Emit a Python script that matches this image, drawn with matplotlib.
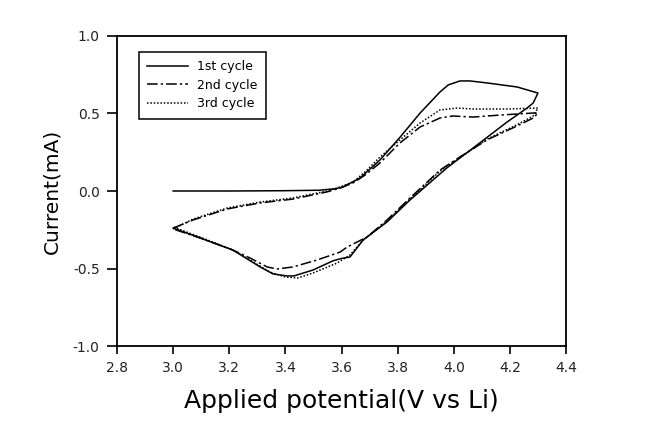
#   Cyclic voltammetry: first three cycles

#Python imports
#----------------
import matplotlib
matplotlib.use("Agg")
import matplotlib.pyplot as plt
#----------------

#********************************
#   DATA
#********************************

# 1st cycle, anodic sweep (3.0 -> 4.3 V)
v1_up = [3.00, 3.20, 3.40, 3.52, 3.58, 3.605, 3.666, 3.737, 3.809, 3.880, 3.951, 3.980, 4.022, 4.058, 4.119, 4.226, 4.300]
i1_up = [0.000, 0.000, 0.002, 0.005, 0.015, 0.026, 0.084, 0.200, 0.348, 0.503, 0.639, 0.684, 0.710, 0.710, 0.697, 0.671, 0.632]
# 1st cycle, cathodic sweep (4.3 -> 3.0 V)
v1_dn = [4.300, 4.283, 4.261, 4.190, 4.083, 3.976, 3.844, 3.762, 3.677, 3.630, 3.600, 3.570, 3.498, 3.430, 3.406, 3.356, 3.310, 3.213, 3.096, 3.000]
i1_dn = [0.632, 0.568, 0.535, 0.445, 0.297, 0.150, -0.058, -0.200, -0.316, -0.426, -0.435, -0.450, -0.510, -0.548, -0.548, -0.535, -0.490, -0.381, -0.303, -0.239]

# 2nd cycle
v2_up = [3.000, 3.071, 3.192, 3.310, 3.427, 3.548, 3.595, 3.641, 3.684, 3.737, 3.808, 3.880, 3.951, 3.997, 4.069, 4.165, 4.283, 4.300]
i2_up = [-0.239, -0.187, -0.116, -0.077, -0.052, -0.006, 0.019, 0.052, 0.103, 0.181, 0.310, 0.413, 0.471, 0.484, 0.477, 0.490, 0.503, 0.503]
v2_dn = [4.300, 4.283, 4.226, 4.119, 4.022, 3.951, 3.844, 3.762, 3.691, 3.620, 3.595, 3.513, 3.427, 3.370, 3.335, 3.274, 3.213, 3.096, 3.000]
i2_dn = [0.503, 0.471, 0.420, 0.330, 0.220, 0.135, -0.045, -0.187, -0.297, -0.361, -0.394, -0.445, -0.490, -0.503, -0.490, -0.432, -0.381, -0.303, -0.245]

# 3rd cycle
v3_up = [3.000, 3.071, 3.192, 3.310, 3.427, 3.548, 3.595, 3.641, 3.684, 3.737, 3.808, 3.880, 3.951, 4.012, 4.069, 4.190, 4.300]
i3_up = [-0.245, -0.181, -0.110, -0.071, -0.045, 0.000, 0.026, 0.058, 0.123, 0.219, 0.329, 0.439, 0.523, 0.535, 0.529, 0.529, 0.535]
v3_dn = [4.300, 4.283, 4.226, 4.119, 4.022, 3.951, 3.844, 3.762, 3.677, 3.630, 3.584, 3.498, 3.445, 3.400, 3.345, 3.274, 3.213, 3.096, 3.000]
i3_dn = [0.535, 0.484, 0.428, 0.335, 0.215, 0.129, -0.052, -0.194, -0.316, -0.413, -0.465, -0.529, -0.561, -0.555, -0.523, -0.445, -0.381, -0.297, -0.232]

labels = ["1st cycle", "2nd cycle", "3rd cycle"]
xticks = [2.8, 3.0, 3.2, 3.4, 3.6, 3.8, 4.0, 4.2, 4.4]
yticks = [-1.0, -0.5, 0.0, 0.5, 1.0]

#-------------------------------
# MAIN
#-------------------------------

fig = plt.figure(figsize=(6.48, 4.4), dpi=100)
ax = fig.add_axes([0.1806, 0.2136, 0.6929, 0.7046])

styles = ["-", (0, (7, 2, 1.5, 2)), (0, (1, 1.2))]
curves = [(v1_up + v1_dn[1:], i1_up + i1_dn[1:]),
          (v2_up + v2_dn[1:], i2_up + i2_dn[1:]),
          (v3_up + v3_dn[1:], i3_up + i3_dn[1:])]

for (v, i), ls, lab in zip(curves, styles, labels):
    ax.plot(v, i, color="black", linestyle=ls, linewidth=1.1, label=lab)

ax.set_xlim(2.8, 4.4)
ax.set_ylim(-1.0, 1.0)
ax.set_xticks(xticks)
ax.set_yticks(yticks)
ax.set_xticklabels(["%.1f" % t for t in xticks])
ax.set_yticklabels(["%.1f" % t for t in yticks])
ax.tick_params(axis="x", direction="out", length=6, width=1.2, labelsize=10,
               labelcolor="#222222", pad=5)
ax.tick_params(axis="y", direction="out", length=7.5, width=1.2, labelsize=10,
               labelcolor="#222222", pad=5)
for s in ax.spines.values():
    s.set_linewidth(1.3)

ax.set_xlabel("Applied potential(V vs Li)", fontsize=18, labelpad=10)
ax.set_ylabel("Current(mA)", fontsize=14.5, labelpad=8)

leg = ax.legend(loc="upper left", bbox_to_anchor=(0.049, 0.948), borderaxespad=0,
                fontsize=9, fancybox=False, framealpha=1, edgecolor="black",
                handlelength=3.3, handletextpad=0.7, labelspacing=0.45, borderpad=0.65)
leg.get_frame().set_linewidth(1.1)

fig.savefig("out.png", dpi=100)
